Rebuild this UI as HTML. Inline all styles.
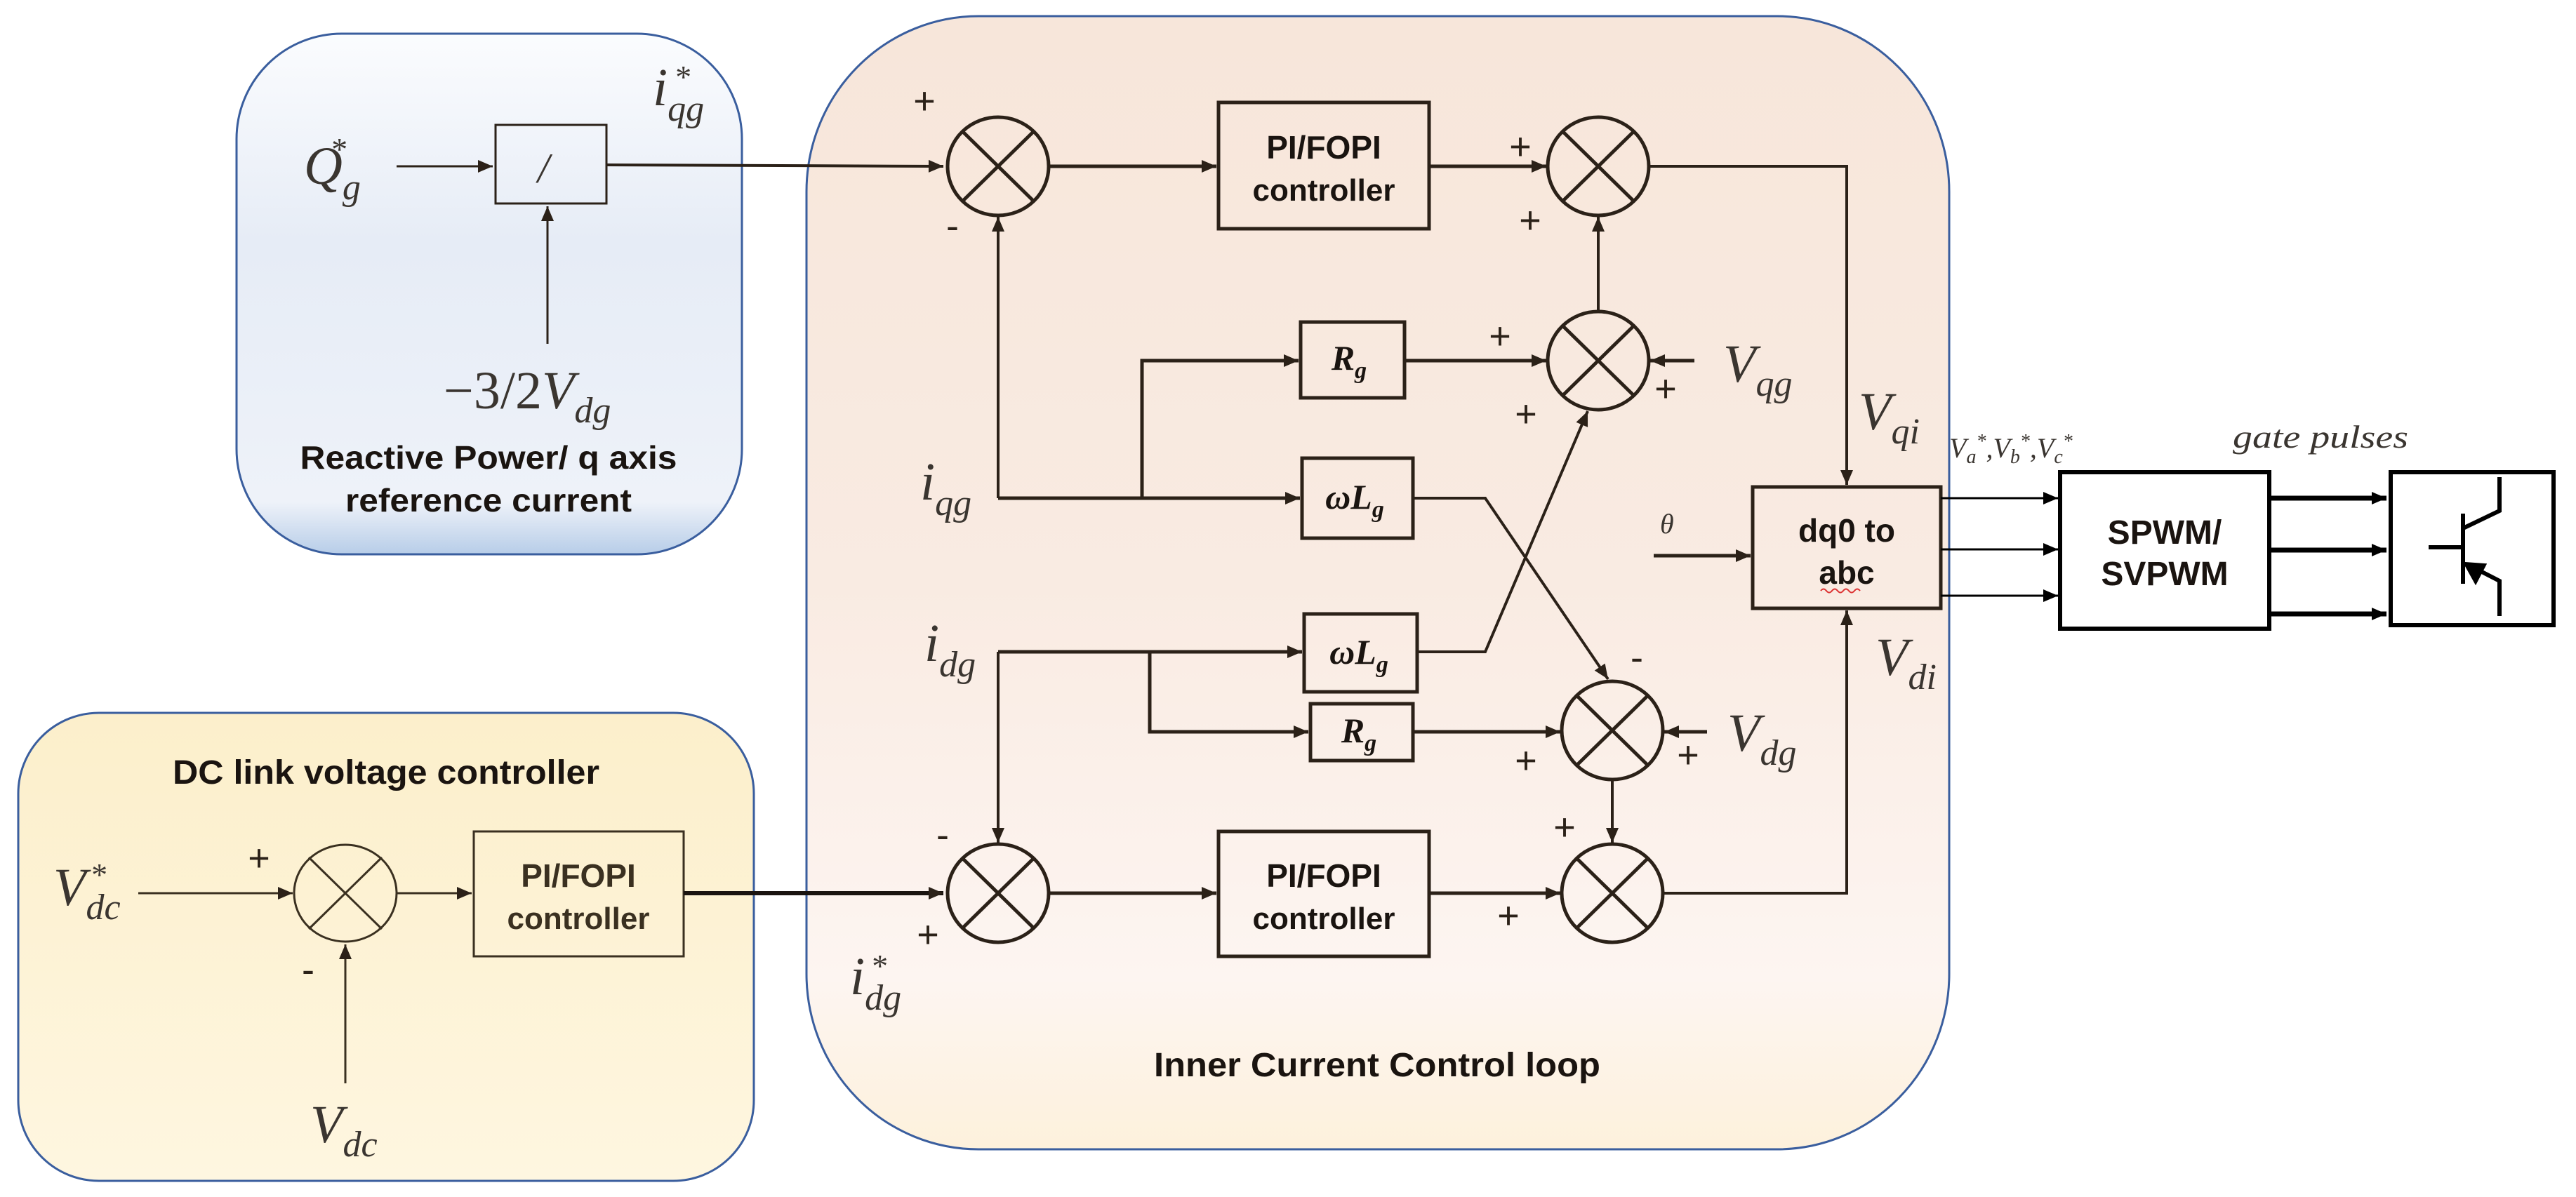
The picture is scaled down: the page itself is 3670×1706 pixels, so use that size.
<!DOCTYPE html>
<html><head><meta charset="utf-8"><style>html,body{margin:0;padding:0;background:#fff}svg{display:block}</style></head>
<body>
<svg width="3670" height="1706" viewBox="0 0 3670 1706" xmlns="http://www.w3.org/2000/svg">
<defs>
<linearGradient id="gb" x1="0" y1="0" x2="0" y2="1">
<stop offset="0" stop-color="#fbfcfe"/><stop offset="0.4" stop-color="#e6ecf6"/><stop offset="0.9" stop-color="#eef2f9"/><stop offset="1" stop-color="#b7cde8"/></linearGradient>
<linearGradient id="gp" x1="0" y1="0" x2="0" y2="1">
<stop offset="0" stop-color="#f7e6da"/><stop offset="0.5" stop-color="#f9ebe2"/><stop offset="0.85" stop-color="#fdf5f1"/><stop offset="1" stop-color="#fdf1dc"/></linearGradient>
<linearGradient id="gy" x1="0" y1="0" x2="0" y2="1">
<stop offset="0" stop-color="#fcefcb"/><stop offset="1" stop-color="#fef6e0"/></linearGradient>
<marker id="a" markerWidth="10" markerHeight="10" refX="9" refY="5" orient="auto" markerUnits="userSpaceOnUse" viewBox="0 0 10 10" style="overflow:visible">
<path d="M-12,-4 L9,5 L-12,14 Z" fill="#2b2118"/></marker>
<marker id="k" markerWidth="10" markerHeight="10" refX="9" refY="5" orient="auto" markerUnits="userSpaceOnUse" viewBox="0 0 10 10" style="overflow:visible">
<path d="M-12,-4 L9,5 L-12,14 Z" fill="#000"/></marker>
</defs>

<rect x="337" y="48" width="720" height="742" rx="150" ry="150" fill="url(#gb)" stroke="#3a5e9e" stroke-width="3"/>
<rect x="1149" y="23" width="1628" height="1615" rx="245" ry="250" fill="url(#gp)" stroke="#3a5e9e" stroke-width="3"/>
<rect x="26" y="1016" width="1048" height="667" rx="115" ry="115" fill="url(#gy)" stroke="#3a5e9e" stroke-width="3"/>

<g font-family="Liberation Serif, serif" font-style="italic" fill="#3a3530">
<text x="433" y="262" font-size="76">Q<tspan font-size="52" dy="22">g</tspan></text>
<text x="470" y="228" font-size="46">*</text>
<text x="930" y="150" font-size="76">i<tspan font-size="52" dy="22">qg</tspan></text>
<text x="960" y="125" font-size="46">*</text>
<text x="632" y="582" font-size="76"><tspan font-style="normal">−3/2</tspan>V<tspan font-size="52" dy="20">dg</tspan></text>
<text x="1311" y="712" font-size="76">i<tspan font-size="52" dy="22">qg</tspan></text>
<text x="1317" y="942" font-size="76">i<tspan font-size="52" dy="22">dg</tspan></text>
<text x="1211" y="1417" font-size="76">i<tspan font-size="52" dy="22">dg</tspan></text>
<text x="1240" y="1392" font-size="46">*</text>
<text x="76" y="1290" font-size="76">V<tspan font-size="52" dy="20">dc</tspan></text>
<text x="128" y="1262" font-size="46">*</text>
<text x="442" y="1628" font-size="76">V<tspan font-size="52" dy="20">dc</tspan></text>
<text x="2455" y="544" font-size="76">V<tspan font-size="52" dy="20">qg</tspan></text>
<text x="2648" y="612" font-size="76">V<tspan font-size="52" dy="20">qi</tspan></text>
<text x="2461" y="1070" font-size="76">V<tspan font-size="52" dy="20">dg</tspan></text>
<text x="2672" y="962" font-size="76">V<tspan font-size="52" dy="20">di</tspan></text>
<text x="2365" y="760" font-size="40">θ</text>
<text x="2777" y="652" font-size="40">V<tspan font-size="28" dy="8">a</tspan><tspan font-size="28" dy="-22">*</tspan><tspan dy="14">,V</tspan><tspan font-size="28" dy="8">b</tspan><tspan font-size="28" dy="-22">*</tspan><tspan dy="14">,V</tspan><tspan font-size="28" dy="8">c</tspan><tspan font-size="28" dy="-22">*</tspan></text>
<text x="3181" y="638" font-size="46" textLength="250" lengthAdjust="spacingAndGlyphs">gate pulses</text>
</g>

<g font-family="Liberation Sans, sans-serif" font-size="54" fill="#2b2118" text-anchor="middle">
<text x="1317" y="162">+</text><text x="1357" y="340">-</text>
<text x="2166" y="227">+</text><text x="2180" y="332">+</text>
<text x="2137" y="497">+</text><text x="2174" y="608">+</text><text x="2373" y="572">+</text>
<text x="2332" y="955">-</text><text x="2174" y="1102">+</text><text x="2405" y="1094">+</text>
<text x="2229" y="1197">+</text><text x="2149" y="1323">+</text>
<text x="1343" y="1208">-</text><text x="1322" y="1350">+</text>
<text x="369" y="1241">+</text><text x="439" y="1400">-</text>
</g>

<g stroke="#2b2118" fill="none">
<rect x="706" y="178" width="158" height="112" stroke-width="3"/>
<line x1="565" y1="237" x2="702" y2="237" stroke-width="3" marker-end="url(#a)"/>
<line x1="780" y1="490" x2="780" y2="294" stroke-width="3" marker-end="url(#a)"/>
<line x1="864" y1="235" x2="1344" y2="237" stroke-width="4" marker-end="url(#a)"/>
</g>
<text x="766" y="260" font-family="Liberation Serif, serif" font-style="italic" font-size="60" fill="#3a3530">/</text>

<g stroke="#3a3020" fill="none" stroke-width="3">
<ellipse cx="492" cy="1273" rx="73" ry="69"/>
<line x1="440" y1="1222" x2="544" y2="1324"/><line x1="544" y1="1222" x2="440" y2="1324"/>
<line x1="197" y1="1273" x2="417" y2="1273" marker-end="url(#a)"/>
<line x1="492" y1="1544" x2="492" y2="1346" marker-end="url(#a)"/>
<line x1="565" y1="1273" x2="672" y2="1273" marker-end="url(#a)"/>
<rect x="675" y="1185" width="299" height="178"/>
</g>
<line x1="974" y1="1273" x2="1344" y2="1273" stroke="#1a1410" stroke-width="6" marker-end="url(#a)"/>

<g stroke="#2b2118" fill="none" stroke-width="5">
<g>
<ellipse cx="1422" cy="237" rx="72" ry="70"/><line x1="1371" y1="187" x2="1473" y2="287"/><line x1="1473" y1="187" x2="1371" y2="287"/>
<ellipse cx="2277" cy="237" rx="72" ry="70"/><line x1="2226" y1="187" x2="2328" y2="287"/><line x1="2328" y1="187" x2="2226" y2="287"/>
<ellipse cx="2277" cy="514" rx="72" ry="70"/><line x1="2226" y1="464" x2="2328" y2="564"/><line x1="2328" y1="464" x2="2226" y2="564"/>
<ellipse cx="2297" cy="1041" rx="72" ry="70"/><line x1="2246" y1="991" x2="2348" y2="1091"/><line x1="2348" y1="991" x2="2246" y2="1091"/>
<ellipse cx="2297" cy="1273" rx="72" ry="70"/><line x1="2246" y1="1223" x2="2348" y2="1323"/><line x1="2348" y1="1223" x2="2246" y2="1323"/>
<ellipse cx="1422" cy="1273" rx="72" ry="70"/><line x1="1371" y1="1223" x2="1473" y2="1323"/><line x1="1473" y1="1223" x2="1371" y2="1323"/>
</g>
<rect x="1736" y="146" width="300" height="180"/>
<rect x="1736" y="1185" width="300" height="178"/>
<rect x="1853" y="459" width="148" height="108"/>
<rect x="1855" y="653" width="158" height="114"/>
<rect x="1858" y="875" width="161" height="111"/>
<rect x="1867" y="1003" width="146" height="81"/>
<rect x="2497" y="694" width="268" height="173"/>
<line x1="1494" y1="237" x2="1733" y2="237" marker-end="url(#a)"/>
<line x1="2036" y1="237" x2="2203" y2="237" marker-end="url(#a)"/>
<polyline points="2349,237 2631,237 2631,691" marker-end="url(#a)" stroke-width="4"/>
<line x1="2277" y1="444" x2="2277" y2="309" marker-end="url(#a)" stroke-width="4"/>
<polyline points="1422,710 1422,309" marker-end="url(#a)" stroke-width="4"/>
<line x1="1422" y1="710" x2="1852" y2="710" marker-end="url(#a)"/>
<polyline points="1627,710 1627,514 1850,514" marker-end="url(#a)"/>
<line x1="2001" y1="514" x2="2203" y2="514" marker-end="url(#a)"/>
<line x1="2414" y1="514" x2="2351" y2="514" marker-end="url(#a)"/>
<polyline points="2013,710 2116,710 2291,968" marker-end="url(#a)" stroke-width="4"/>
<polyline points="2019,929 2116,929 2262,586" marker-end="url(#a)" stroke-width="4"/>
<line x1="1422" y1="929" x2="1855" y2="929" marker-end="url(#a)"/>
<polyline points="1638,929 1638,1043 1864,1043" marker-end="url(#a)"/>
<line x1="1422" y1="929" x2="1422" y2="1201" marker-end="url(#a)" stroke-width="4"/>
<line x1="2013" y1="1043" x2="2223" y2="1043" marker-end="url(#a)"/>
<line x1="2432" y1="1043" x2="2371" y2="1043" marker-end="url(#a)"/>
<line x1="2297" y1="1111" x2="2297" y2="1201" marker-end="url(#a)" stroke-width="4"/>
<line x1="1494" y1="1273" x2="1733" y2="1273" marker-end="url(#a)"/>
<line x1="2036" y1="1273" x2="2223" y2="1273" marker-end="url(#a)"/>
<polyline points="2369,1273 2631,1273 2631,870" marker-end="url(#a)" stroke-width="4"/>
<line x1="2356" y1="792" x2="2494" y2="792" marker-end="url(#a)"/>
</g>

<g stroke="#000" fill="none">
<line x1="2765" y1="710" x2="2932" y2="710" stroke-width="3" marker-end="url(#k)"/>
<line x1="2765" y1="783" x2="2932" y2="783" stroke-width="3" marker-end="url(#k)"/>
<line x1="2765" y1="849" x2="2932" y2="849" stroke-width="3" marker-end="url(#k)"/>
<rect x="2935" y="673" width="298" height="223" stroke-width="6"/>
<line x1="3233" y1="710" x2="3400" y2="710" stroke-width="7" marker-end="url(#k)"/>
<line x1="3233" y1="784" x2="3400" y2="784" stroke-width="7" marker-end="url(#k)"/>
<line x1="3233" y1="875" x2="3400" y2="875" stroke-width="7" marker-end="url(#k)"/>
<rect x="3406" y="673" width="232" height="218" stroke-width="6"/>
<g stroke-width="6">
<polyline points="3561,680 3561,728 3509,753"/>
<line x1="3509" y1="732" x2="3509" y2="832"/>
<line x1="3460" y1="780" x2="3509" y2="780"/>
<polyline points="3561,878 3561,828 3530,812"/>
</g>
<path d="M3512,803 L3540,805 L3527,830 Z" fill="#000" stroke="#000" stroke-width="4"/>
</g>

<g font-family="Liberation Sans, sans-serif" font-weight="bold" fill="#1a1410" text-anchor="middle">
<text x="1886" y="226" font-size="46">PI/FOPI</text>
<text x="1886" y="286" font-size="44">controller</text>
<text x="1886" y="1264" font-size="46">PI/FOPI</text>
<text x="1886" y="1324" font-size="44">controller</text>
<text x="2631" y="772" font-size="46">dq0 to</text>
<text x="2631" y="832" font-size="46">abc</text>
<text x="3084" y="775" font-size="48">SPWM/</text>
<text x="3084" y="834" font-size="48">SVPWM</text>
<text x="696" y="668" font-size="46" textLength="537" lengthAdjust="spacingAndGlyphs">Reactive Power/ q axis</text>
<text x="696" y="729" font-size="46" textLength="408" lengthAdjust="spacingAndGlyphs">reference current</text>
<text x="550" y="1117" font-size="48" textLength="608" lengthAdjust="spacingAndGlyphs">DC link voltage controller</text>
<text x="1962" y="1534" font-size="48" textLength="636" lengthAdjust="spacingAndGlyphs">Inner Current Control loop</text>
</g>
<g font-family="Liberation Sans, sans-serif" font-weight="bold" fill="#3a3020" text-anchor="middle">
<text x="824" y="1264" font-size="46">PI/FOPI</text>
<text x="824" y="1324" font-size="44">controller</text>
</g>
<g font-family="Liberation Serif, serif" font-style="italic" font-size="50" fill="#1a1410" text-anchor="middle" font-weight="bold">
<text x="1922" y="527">R<tspan font-size="34" dy="12">g</tspan></text>
<text x="1930" y="725">ωL<tspan font-size="34" dy="12">g</tspan></text>
<text x="1936" y="946">ωL<tspan font-size="34" dy="12">g</tspan></text>
<text x="1936" y="1058">R<tspan font-size="34" dy="12">g</tspan></text>
</g>
<path d="M2594,842 q4,-5 8,0 t8,0 t8,0 t8,0 t8,0 t8,0 t8,0" stroke="#d33" stroke-width="2" fill="none"/>
</svg>
</body></html>
